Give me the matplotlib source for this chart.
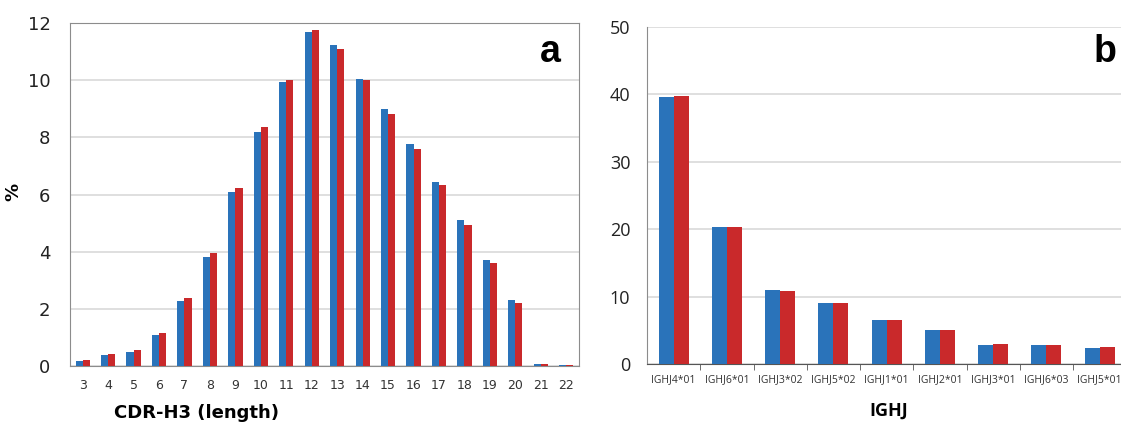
import numpy as np
import matplotlib.pyplot as plt

# panel a: CDR-H3 length distribution
cdr_len = list(range(3, 23))
cdr_blue = [0.18, 0.38, 0.50, 1.10, 2.27, 3.80, 6.10, 8.17, 9.93, 11.70,
            11.22, 10.03, 9.00, 7.75, 6.45, 5.10, 3.70, 2.32, 0.07, 0.04]
cdr_red = [0.20, 0.42, 0.55, 1.17, 2.37, 3.95, 6.22, 8.35, 10.00, 11.77,
           11.10, 10.00, 8.83, 7.60, 6.33, 4.95, 3.62, 2.22, 0.07, 0.04]

# panel b: IGHJ usage
ighj_genes = ['IGHJ4*01', 'IGHJ6*01', 'IGHJ3*02', 'IGHJ5*02', 'IGHJ1*01',
              'IGHJ2*01', 'IGHJ3*01', 'IGHJ6*03', 'IGHJ5*01']
ighj_blue = [39.6, 20.4, 11.0, 9.1, 6.5, 5.0, 2.8, 2.8, 2.4]
ighj_red = [39.7, 20.3, 10.9, 9.0, 6.6, 5.0, 2.9, 2.8, 2.5]

BLUE = '#2a73ba'
RED = '#c9292b'
GRID = '#d9d9d9'
EDGE = '#8c8c8c'

fig = plt.figure(figsize=(11.21, 4.26), dpi=100)

# ---- panel a
ax1 = fig.add_axes([0.0624, 0.1408, 0.4541, 0.8052])
w = 0.28
x = np.arange(len(cdr_len))
ax1.bar(x - w/2, cdr_blue, w, color=BLUE, zorder=3)
ax1.bar(x + w/2, cdr_red, w, color=RED, zorder=3)
ax1.set_xlim(-0.5, len(cdr_len) - 0.5)
ax1.set_ylim(0, 12)
ax1.set_yticks(range(0, 13, 2))
ax1.set_xticks(x)
ax1.set_xticklabels([str(v) for v in cdr_len])
ax1.yaxis.grid(True, color=GRID, lw=1.2, zorder=0)
for s in ax1.spines.values():
    s.set_color(EDGE)
ax1.tick_params(axis='x', length=0, pad=9, labelsize=9, colors='#333333')
ax1.tick_params(axis='y', length=0, pad=14, labelsize=13, colors='#222222')
ax1.set_xlabel('CDR-H3 (length)', fontsize=13, fontweight='bold')
ax1.xaxis.set_label_coords(0.248, -0.112)
ax1.set_ylabel('%', fontsize=13, fontweight='bold')
ax1.yaxis.set_label_coords(-0.094, 0.507)
ax1.text(0.965, 0.915, 'a', transform=ax1.transAxes, ha='right', va='center',
         fontsize=27, fontweight='bold', family='Liberation Sans')

# ---- panel b (runs off the right edge like the original)
ax2 = fig.add_axes([0.5772, 0.1455, 0.4275, 0.7911])
x2 = np.arange(len(ighj_genes))
ax2.bar(x2 - w/2, ighj_blue, w, color=BLUE, zorder=3)
ax2.bar(x2 + w/2, ighj_red, w, color=RED, zorder=3)
ax2.set_xlim(-0.5, len(ighj_genes) - 0.5)
ax2.set_ylim(0, 50)
ax2.set_yticks(range(0, 51, 10))
ax2.set_xticks(x2)
ax2.set_xticklabels(ighj_genes, family='Open Sans')
ax2.set_xticks(x2[:-1] + 0.5, minor=True)
ax2.yaxis.grid(True, color=GRID, lw=1.2, zorder=0)
ax2.spines['top'].set_visible(False)
ax2.spines['right'].set_visible(False)
ax2.spines['left'].set_color(EDGE)
ax2.spines['bottom'].set_color('#555555')
ax2.tick_params(axis='x', which='major', length=0, pad=7, labelsize=7.5, colors='#333333')
ax2.tick_params(axis='x', which='minor', length=4, direction='out', color='#555555')
ax2.tick_params(axis='y', length=0, pad=12, labelsize=13, colors='#222222')
for t in ax2.get_yticklabels():
    t.set_family('Open Sans')
ax2.set_xlabel('IGHJ', fontsize=13, fontweight='bold', family='Open Sans')
ax2.xaxis.set_label_coords(0.505, -0.113)
ax2.text(0.98, 0.925, 'b', transform=ax2.transAxes, ha='right', va='center',
         fontsize=27, fontweight='bold', family='Liberation Sans')

fig.savefig('out.png', dpi=100)
